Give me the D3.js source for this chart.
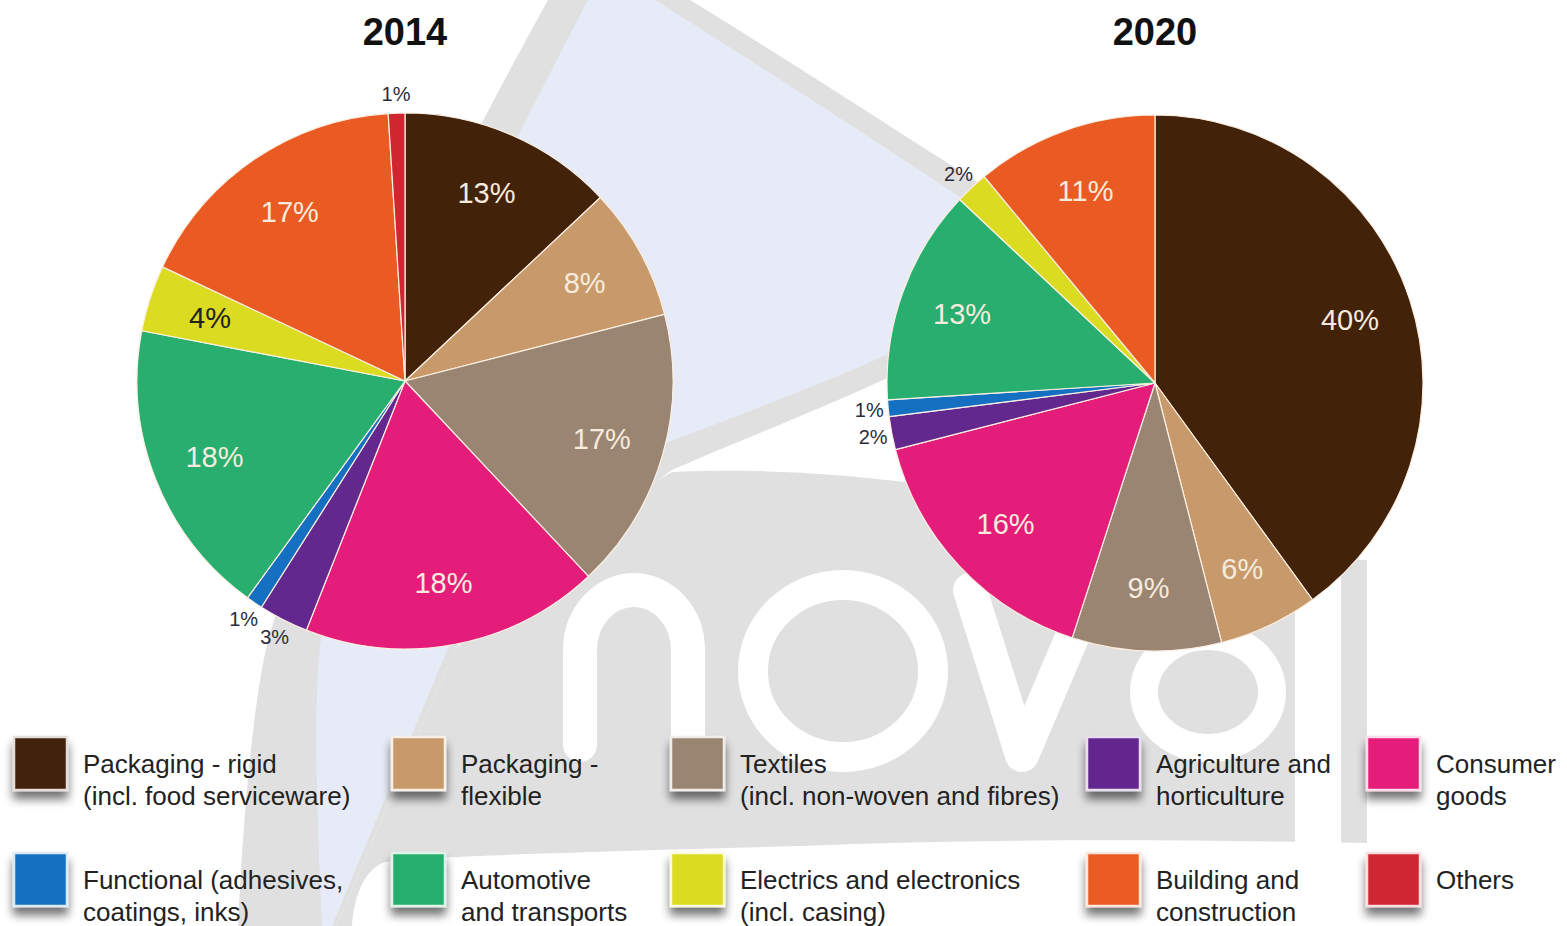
<!DOCTYPE html>
<html>
<head>
<meta charset="utf-8">
<script src="https://cdn.jsdelivr.net/npm/d3@7"></script>
<style>
  html, body { margin: 0; padding: 0; background: #ffffff; }
  svg { display: block; }
  text { font-family: "Liberation Sans", Arial, Helvetica, sans-serif; }
</style>
</head>
<body>
<svg id="chart" width="1567" height="926"></svg>
<script>
// Market segments, in the clockwise order used by both pies
const categories = [
  "Packaging - rigid", "Packaging - flexible", "Textiles", "Consumer goods",
  "Agriculture and horticulture", "Functional", "Automotive and transports",
  "Electrics and electronics", "Building and construction", "Others"
];
// Shares in percent
const share2014 = [13, 8, 17, 18, 3, 1, 18, 4, 17, 1];
const share2020 = [40, 6, 9, 16, 2, 1, 13, 2, 11, 0];
const years = ["2014", "2020"];
const colors = [
  "#43220a", "#c89a6b", "#9a8472", "#e51d7a", "#63288e",
  "#1670c2", "#28ae6e", "#dbdc22", "#ea5b24", "#cf2630"
];
// Legend text, two lines per segment
const legendLines = [
  ["Packaging - rigid", "(incl. food serviceware)"],
  ["Packaging -", "flexible"],
  ["Textiles", "(incl. non-woven and fibres)"],
  ["Consumer", "goods"],
  ["Agriculture and", "horticulture"],
  ["Functional (adhesives,", "coatings, inks)"],
  ["Automotive", "and transports"],
  ["Electrics and electronics", "(incl. casing)"],
  ["Building and", "construction"],
  ["Others", ""]
];
// Legend reading order (row by row)
const legendOrder = [0, 1, 2, 4, 3, 5, 6, 7, 8, 9];

const svg = d3.select("#chart");
const defs = svg.append("defs");
const shadow = defs.append("filter").attr("id", "swatchShadow")
  .attr("x", "-40%").attr("y", "-40%").attr("width", "180%").attr("height", "190%");
shadow.append("feGaussianBlur").attr("in", "SourceAlpha").attr("stdDeviation", 5).attr("result", "b");
shadow.append("feOffset").attr("in", "b").attr("dx", 0).attr("dy", 8).attr("result", "o");
shadow.append("feComponentTransfer").attr("in", "o").attr("result", "s")
  .append("feFuncA").attr("type", "linear").attr("slope", 0.55);
const merge = shadow.append("feMerge");
merge.append("feMergeNode").attr("in", "s");
merge.append("feMergeNode").attr("in", "SourceGraphic");

// ---- background logo watermark ----
const bg = svg.append("g").attr("class", "watermark");
const GREY = "#e0e0e0", PALE = "#e7ebf7";
bg.append("path").attr("fill", GREY).attr("d",
  "M 238 926 C 244 800 254 700 268 640 C 330 430 410 250 548 0 L 690 0 " +
  "C 780 55 880 120 990 190 L 1000 330 L 900 372 C 820 410 740 440 672 470 " +
  "C 600 520 500 590 455 650 L 336 926 Z");
bg.append("path").attr("fill", PALE).attr("d",
  "M 322 926 C 316 800 314 700 320 645 C 362 450 442 280 588 0 L 655 0 " +
  "C 750 60 860 130 960 197 L 975 300 L 893 352 C 820 385 740 415 668 442 " +
  "C 590 500 500 580 448 648 L 332 926 Z");
bg.append("path").attr("fill", GREY).attr("d",
  "M 336 926 L 455 650 C 520 580 600 510 672 472 C 760 468 840 474 905 482 " +
  "L 1000 560 L 1367 560 L 1367 843 C 1200 840 1000 838 800 846 " +
  "C 600 852 450 855 385 862 C 362 870 354 900 352 926 Z");
const letters = bg.append("g").attr("fill", "none").attr("stroke", "#ffffff")
  .attr("stroke-linecap", "round").attr("stroke-linejoin", "round");
letters.append("path").attr("stroke-width", 34)
  .attr("d", "M 580 745 V 650 A 54 60 0 0 1 688 650 V 745");
letters.append("ellipse").attr("stroke-width", 30)
  .attr("cx", 843).attr("cy", 671).attr("rx", 90).attr("ry", 86);
letters.append("path").attr("stroke-width", 34)
  .attr("d", "M 970 590 L 1022 755 L 1092 590");
letters.append("ellipse").attr("stroke-width", 28)
  .attr("cx", 1208).attr("cy", 692).attr("rx", 64).attr("ry", 56);
letters.append("path").attr("stroke-width", 46).attr("stroke-linecap", "butt")
  .attr("d", "M 1318 575 V 850");

// ---- pies ----
const R = 268;
const pieCenters = [[405, 381], [1155, 383]];
const pie = d3.pie().sort(null).value(d => d.v);
const arc = d3.arc().innerRadius(0).outerRadius(R);
const insideArc = d3.arc().innerRadius(205).outerRadius(205);
const outsideArc = d3.arc().innerRadius(287).outerRadius(287);

[share2014, share2020].forEach((values, k) => {
  const data = values.map((v, i) => ({ v, i }));
  const g = svg.append("g")
    .attr("transform", `translate(${pieCenters[k][0]},${pieCenters[k][1]})`);
  const arcs = pie(data).filter(a => a.data.v > 0);

  g.selectAll("path.slice").data(arcs).join("path")
    .attr("class", "slice")
    .attr("d", arc)
    .attr("fill", d => colors[d.data.i])
    .attr("stroke", "#fbefe2")
    .attr("stroke-width", 1.2)
    .attr("stroke-linejoin", "round");

  g.selectAll("text.val").data(arcs).join("text")
    .attr("class", "val")
    .attr("transform", d => {
      const c = (d.data.v <= 3 ? outsideArc : insideArc).centroid(d);
      return `translate(${c[0]},${c[1]})`;
    })
    .attr("text-anchor", "middle")
    .attr("dy", "0.36em")
    .attr("font-size", d => d.data.v <= 3 ? 20 : 29)
    .attr("fill", d => d.data.v <= 3 ? "#2b2b3a" : (d.data.i === 7 ? "#222222" : "#f6ebdd"))
    .text(d => d.data.v + "%");

  svg.append("text")
    .attr("x", pieCenters[k][0]).attr("y", 45)
    .attr("text-anchor", "middle")
    .attr("font-size", 38).attr("font-weight", "bold")
    .attr("fill", "#111111")
    .text(years[k]);
});

// ---- legend ----
const colX = [14, 392, 671, 1087, 1367];
const rowY = [737, 853];
const SW = 53;
const legend = svg.append("g").attr("class", "legend");
legendOrder.forEach((ci, n) => {
  const x = colX[n % 5], y = rowY[Math.floor(n / 5)];
  const item = legend.append("g").attr("transform", `translate(${x},${y})`);
  item.append("rect")
    .attr("width", SW).attr("height", SW)
    .attr("fill", colors[ci])
    .attr("stroke", d3.interpolateRgb(colors[ci], "#ffffff")(0.85))
    .attr("stroke-width", 2.5)
    .attr("filter", "url(#swatchShadow)");
  const t = item.append("text")
    .attr("x", 69).attr("y", 36)
    .attr("font-size", 26)
    .attr("fill", "#222222");
  t.append("tspan").attr("x", 69).attr("dy", 0).text(legendLines[ci][0]);
  if (legendLines[ci][1]) {
    t.append("tspan").attr("x", 69).attr("dy", 32).text(legendLines[ci][1]);
  }
});
</script>
</body>
</html>
